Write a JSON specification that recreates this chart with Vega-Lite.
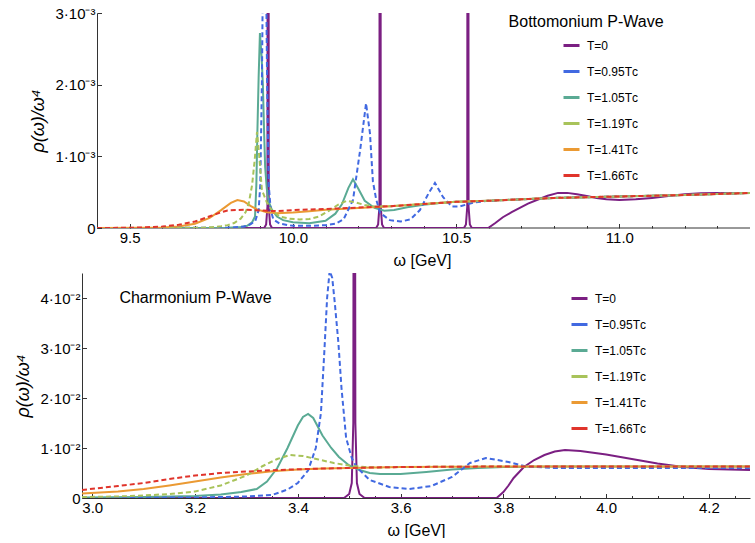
{
"$schema": "https://vega.github.io/schema/vega-lite/v6.json",
"background": "white",
"padding": {"left": 14, "top": 6, "right": 5, "bottom": 0},
"spacing": 5,
"config": {
  "view": {"stroke": null},
  "font": "Liberation Sans",
  "axis": {"grid": false, "domainColor": "#333333", "tickColor": "#333333", "labelColor": "black", "titleColor": "black", "labelFontSize": 15, "titleFontSize": 18, "titleFontWeight": "normal", "labelFont": "Liberation Sans", "titleFont": "Liberation Sans", "tickSize": -4.5, "labelPadding": 6.5},
  "legend": {"orient": "none", "symbolType": "stroke", "symbolStrokeWidth": 3, "symbolSize": 256, "labelFontSize": 12, "labelFont": "Liberation Sans", "labelColor": "black", "rowPadding": 10, "labelOffset": 6, "padding": 0}
},
"resolve": {"scale": {"color": "independent"}, "legend": {"color": "independent"}},
"datasets": {
"bot": [
{"s":"T=0","w":9.4,"v":0},{"s":"T=0","w":9.912,"v":0},{"s":"T=0","w":9.918,"v":0.05e-3},{"s":"T=0","w":9.922,"v":0.3e-3},{"s":"T=0","w":9.924,"v":20e-3},{"s":"T=0","w":9.926,"v":0.3e-3},{"s":"T=0","w":9.93,"v":0.05e-3},{"s":"T=0","w":9.936,"v":0},
{"s":"T=0","w":10.255,"v":0},{"s":"T=0","w":10.261,"v":0.05e-3},{"s":"T=0","w":10.265,"v":0.3e-3},{"s":"T=0","w":10.267,"v":20e-3},{"s":"T=0","w":10.269,"v":0.3e-3},{"s":"T=0","w":10.273,"v":0.05e-3},{"s":"T=0","w":10.279,"v":0},
{"s":"T=0","w":10.524,"v":0},{"s":"T=0","w":10.53,"v":0.05e-3},{"s":"T=0","w":10.534,"v":0.3e-3},{"s":"T=0","w":10.536,"v":20e-3},{"s":"T=0","w":10.538,"v":0.3e-3},{"s":"T=0","w":10.542,"v":0.05e-3},{"s":"T=0","w":10.548,"v":0},
{"s":"T=0","w":10.598,"v":0},{"s":"T=0","w":10.62,"v":0.07e-3},{"s":"T=0","w":10.643,"v":0.15e-3},{"s":"T=0","w":10.67,"v":0.22e-3},{"s":"T=0","w":10.695,"v":0.28e-3},{"s":"T=0","w":10.72,"v":0.34e-3},{"s":"T=0","w":10.747,"v":0.39e-3},{"s":"T=0","w":10.78,"v":0.45e-3},{"s":"T=0","w":10.812,"v":0.49e-3},{"s":"T=0","w":10.84,"v":0.49e-3},{"s":"T=0","w":10.87,"v":0.47e-3},{"s":"T=0","w":10.9,"v":0.445e-3},{"s":"T=0","w":10.93,"v":0.42e-3},{"s":"T=0","w":10.96,"v":0.4e-3},{"s":"T=0","w":11.0,"v":0.39e-3},{"s":"T=0","w":11.05,"v":0.4e-3},{"s":"T=0","w":11.1,"v":0.42e-3},{"s":"T=0","w":11.15,"v":0.445e-3},{"s":"T=0","w":11.2,"v":0.47e-3},{"s":"T=0","w":11.25,"v":0.485e-3},{"s":"T=0","w":11.3,"v":0.49e-3},{"s":"T=0","w":11.4,"v":0.49e-3},

{"s":"T=0.95Tᴄ","w":9.4,"v":0},{"s":"T=0.95Tᴄ","w":9.8,"v":0.003e-3},{"s":"T=0.95Tᴄ","w":9.85,"v":0.02e-3},{"s":"T=0.95Tᴄ","w":9.87,"v":0.05e-3},{"s":"T=0.95Tᴄ","w":9.885,"v":0.1e-3},{"s":"T=0.95Tᴄ","w":9.895,"v":0.25e-3},{"s":"T=0.95Tᴄ","w":9.9,"v":0.6e-3},{"s":"T=0.95Tᴄ","w":9.905,"v":2.0e-3},{"s":"T=0.95Tᴄ","w":9.909,"v":4.0e-3},{"s":"T=0.95Tᴄ","w":9.913,"v":5.0e-3},{"s":"T=0.95Tᴄ","w":9.917,"v":4.0e-3},{"s":"T=0.95Tᴄ","w":9.921,"v":2.0e-3},{"s":"T=0.95Tᴄ","w":9.926,"v":0.6e-3},{"s":"T=0.95Tᴄ","w":9.932,"v":0.25e-3},{"s":"T=0.95Tᴄ","w":9.94,"v":0.12e-3},{"s":"T=0.95Tᴄ","w":9.96,"v":0.06e-3},{"s":"T=0.95Tᴄ","w":10.0,"v":0.03e-3},{"s":"T=0.95Tᴄ","w":10.05,"v":0.03e-3},{"s":"T=0.95Tᴄ","w":10.1,"v":0.04e-3},{"s":"T=0.95Tᴄ","w":10.13,"v":0.06e-3},{"s":"T=0.95Tᴄ","w":10.155,"v":0.12e-3},{"s":"T=0.95Tᴄ","w":10.184,"v":0.39e-3},{"s":"T=0.95Tᴄ","w":10.206,"v":1.09e-3},{"s":"T=0.95Tᴄ","w":10.224,"v":1.74e-3},{"s":"T=0.95Tᴄ","w":10.236,"v":1.32e-3},{"s":"T=0.95Tᴄ","w":10.245,"v":0.65e-3},{"s":"T=0.95Tᴄ","w":10.255,"v":0.4e-3},{"s":"T=0.95Tᴄ","w":10.267,"v":0.21e-3},{"s":"T=0.95Tᴄ","w":10.297,"v":0.11e-3},{"s":"T=0.95Tᴄ","w":10.33,"v":0.09e-3},{"s":"T=0.95Tᴄ","w":10.36,"v":0.12e-3},{"s":"T=0.95Tᴄ","w":10.389,"v":0.25e-3},{"s":"T=0.95Tᴄ","w":10.415,"v":0.48e-3},{"s":"T=0.95Tᴄ","w":10.435,"v":0.63e-3},{"s":"T=0.95Tᴄ","w":10.46,"v":0.43e-3},{"s":"T=0.95Tᴄ","w":10.487,"v":0.3e-3},{"s":"T=0.95Tᴄ","w":10.51,"v":0.3e-3},{"s":"T=0.95Tᴄ","w":10.533,"v":0.33e-3},{"s":"T=0.95Tᴄ","w":10.56,"v":0.36e-3},{"s":"T=0.95Tᴄ","w":10.6,"v":0.38e-3},{"s":"T=0.95Tᴄ","w":10.7,"v":0.4e-3},{"s":"T=0.95Tᴄ","w":10.8,"v":0.42e-3},{"s":"T=0.95Tᴄ","w":10.9,"v":0.43e-3},{"s":"T=0.95Tᴄ","w":11.0,"v":0.44e-3},{"s":"T=0.95Tᴄ","w":11.1,"v":0.45e-3},{"s":"T=0.95Tᴄ","w":11.2,"v":0.46e-3},{"s":"T=0.95Tᴄ","w":11.3,"v":0.475e-3},{"s":"T=0.95Tᴄ","w":11.4,"v":0.49e-3},

{"s":"T=1.05Tᴄ","w":9.4,"v":0},{"s":"T=1.05Tᴄ","w":9.8,"v":0.005e-3},{"s":"T=1.05Tᴄ","w":9.84,"v":0.015e-3},{"s":"T=1.05Tᴄ","w":9.86,"v":0.03e-3},{"s":"T=1.05Tᴄ","w":9.875,"v":0.08e-3},{"s":"T=1.05Tᴄ","w":9.884,"v":0.16e-3},{"s":"T=1.05Tᴄ","w":9.888,"v":0.6e-3},{"s":"T=1.05Tᴄ","w":9.891,"v":1.3e-3},{"s":"T=1.05Tᴄ","w":9.895,"v":2.1e-3},{"s":"T=1.05Tᴄ","w":9.899,"v":2.72e-3},{"s":"T=1.05Tᴄ","w":9.904,"v":2.4e-3},{"s":"T=1.05Tᴄ","w":9.908,"v":2.0e-3},{"s":"T=1.05Tᴄ","w":9.912,"v":1.3e-3},{"s":"T=1.05Tᴄ","w":9.915,"v":0.85e-3},{"s":"T=1.05Tᴄ","w":9.92,"v":0.55e-3},{"s":"T=1.05Tᴄ","w":9.925,"v":0.38e-3},{"s":"T=1.05Tᴄ","w":9.935,"v":0.26e-3},{"s":"T=1.05Tᴄ","w":9.951,"v":0.16e-3},{"s":"T=1.05Tᴄ","w":9.97,"v":0.11e-3},{"s":"T=1.05Tᴄ","w":10.0,"v":0.08e-3},{"s":"T=1.05Tᴄ","w":10.05,"v":0.065e-3},{"s":"T=1.05Tᴄ","w":10.1,"v":0.1e-3},{"s":"T=1.05Tᴄ","w":10.13,"v":0.2e-3},{"s":"T=1.05Tᴄ","w":10.15,"v":0.33e-3},{"s":"T=1.05Tᴄ","w":10.17,"v":0.56e-3},{"s":"T=1.05Tᴄ","w":10.184,"v":0.68e-3},{"s":"T=1.05Tᴄ","w":10.2,"v":0.55e-3},{"s":"T=1.05Tᴄ","w":10.22,"v":0.38e-3},{"s":"T=1.05Tᴄ","w":10.25,"v":0.28e-3},{"s":"T=1.05Tᴄ","w":10.28,"v":0.24e-3},{"s":"T=1.05Tᴄ","w":10.31,"v":0.25e-3},{"s":"T=1.05Tᴄ","w":10.35,"v":0.29e-3},{"s":"T=1.05Tᴄ","w":10.4,"v":0.325e-3},{"s":"T=1.05Tᴄ","w":10.45,"v":0.35e-3},{"s":"T=1.05Tᴄ","w":10.5,"v":0.365e-3},{"s":"T=1.05Tᴄ","w":10.6,"v":0.38e-3},{"s":"T=1.05Tᴄ","w":10.7,"v":0.4e-3},{"s":"T=1.05Tᴄ","w":10.8,"v":0.42e-3},{"s":"T=1.05Tᴄ","w":10.9,"v":0.43e-3},{"s":"T=1.05Tᴄ","w":11.0,"v":0.44e-3},{"s":"T=1.05Tᴄ","w":11.1,"v":0.45e-3},{"s":"T=1.05Tᴄ","w":11.2,"v":0.46e-3},{"s":"T=1.05Tᴄ","w":11.3,"v":0.475e-3},{"s":"T=1.05Tᴄ","w":11.4,"v":0.49e-3},

{"s":"T=1.19Tᴄ","w":9.4,"v":0},{"s":"T=1.19Tᴄ","w":9.7,"v":0.002e-3},{"s":"T=1.19Tᴄ","w":9.75,"v":0.01e-3},{"s":"T=1.19Tᴄ","w":9.78,"v":0.025e-3},{"s":"T=1.19Tᴄ","w":9.8,"v":0.04e-3},{"s":"T=1.19Tᴄ","w":9.82,"v":0.07e-3},{"s":"T=1.19Tᴄ","w":9.84,"v":0.13e-3},{"s":"T=1.19Tᴄ","w":9.855,"v":0.22e-3},{"s":"T=1.19Tᴄ","w":9.865,"v":0.35e-3},{"s":"T=1.19Tᴄ","w":9.875,"v":0.6e-3},{"s":"T=1.19Tᴄ","w":9.883,"v":0.95e-3},{"s":"T=1.19Tᴄ","w":9.89,"v":1.34e-3},{"s":"T=1.19Tᴄ","w":9.897,"v":1.0e-3},{"s":"T=1.19Tᴄ","w":9.905,"v":0.53e-3},{"s":"T=1.19Tᴄ","w":9.92,"v":0.36e-3},{"s":"T=1.19Tᴄ","w":9.936,"v":0.24e-3},{"s":"T=1.19Tᴄ","w":9.96,"v":0.16e-3},{"s":"T=1.19Tᴄ","w":9.99,"v":0.13e-3},{"s":"T=1.19Tᴄ","w":10.02,"v":0.12e-3},{"s":"T=1.19Tᴄ","w":10.05,"v":0.125e-3},{"s":"T=1.19Tᴄ","w":10.08,"v":0.16e-3},{"s":"T=1.19Tᴄ","w":10.11,"v":0.24e-3},{"s":"T=1.19Tᴄ","w":10.14,"v":0.33e-3},{"s":"T=1.19Tᴄ","w":10.165,"v":0.38e-3},{"s":"T=1.19Tᴄ","w":10.19,"v":0.36e-3},{"s":"T=1.19Tᴄ","w":10.22,"v":0.32e-3},{"s":"T=1.19Tᴄ","w":10.25,"v":0.3e-3},{"s":"T=1.19Tᴄ","w":10.3,"v":0.305e-3},{"s":"T=1.19Tᴄ","w":10.4,"v":0.335e-3},{"s":"T=1.19Tᴄ","w":10.5,"v":0.365e-3},{"s":"T=1.19Tᴄ","w":10.6,"v":0.38e-3},{"s":"T=1.19Tᴄ","w":10.7,"v":0.4e-3},{"s":"T=1.19Tᴄ","w":10.8,"v":0.42e-3},{"s":"T=1.19Tᴄ","w":10.9,"v":0.43e-3},{"s":"T=1.19Tᴄ","w":11.0,"v":0.44e-3},{"s":"T=1.19Tᴄ","w":11.1,"v":0.45e-3},{"s":"T=1.19Tᴄ","w":11.2,"v":0.46e-3},{"s":"T=1.19Tᴄ","w":11.3,"v":0.475e-3},{"s":"T=1.19Tᴄ","w":11.4,"v":0.49e-3},

{"s":"T=1.41Tᴄ","w":9.4,"v":0},{"s":"T=1.41Tᴄ","w":9.55,"v":0.002e-3},{"s":"T=1.41Tᴄ","w":9.6,"v":0.006e-3},{"s":"T=1.41Tᴄ","w":9.65,"v":0.02e-3},{"s":"T=1.41Tᴄ","w":9.7,"v":0.06e-3},{"s":"T=1.41Tᴄ","w":9.745,"v":0.14e-3},{"s":"T=1.41Tᴄ","w":9.78,"v":0.25e-3},{"s":"T=1.41Tᴄ","w":9.81,"v":0.35e-3},{"s":"T=1.41Tᴄ","w":9.83,"v":0.39e-3},{"s":"T=1.41Tᴄ","w":9.85,"v":0.37e-3},{"s":"T=1.41Tᴄ","w":9.87,"v":0.31e-3},{"s":"T=1.41Tᴄ","w":9.89,"v":0.26e-3},{"s":"T=1.41Tᴄ","w":9.92,"v":0.22e-3},{"s":"T=1.41Tᴄ","w":9.95,"v":0.205e-3},{"s":"T=1.41Tᴄ","w":10.0,"v":0.215e-3},{"s":"T=1.41Tᴄ","w":10.05,"v":0.235e-3},{"s":"T=1.41Tᴄ","w":10.1,"v":0.255e-3},{"s":"T=1.41Tᴄ","w":10.2,"v":0.28e-3},{"s":"T=1.41Tᴄ","w":10.3,"v":0.305e-3},{"s":"T=1.41Tᴄ","w":10.4,"v":0.335e-3},{"s":"T=1.41Tᴄ","w":10.5,"v":0.365e-3},{"s":"T=1.41Tᴄ","w":10.6,"v":0.38e-3},{"s":"T=1.41Tᴄ","w":10.7,"v":0.4e-3},{"s":"T=1.41Tᴄ","w":10.8,"v":0.42e-3},{"s":"T=1.41Tᴄ","w":10.9,"v":0.43e-3},{"s":"T=1.41Tᴄ","w":11.0,"v":0.44e-3},{"s":"T=1.41Tᴄ","w":11.1,"v":0.45e-3},{"s":"T=1.41Tᴄ","w":11.2,"v":0.46e-3},{"s":"T=1.41Tᴄ","w":11.3,"v":0.475e-3},{"s":"T=1.41Tᴄ","w":11.4,"v":0.49e-3},

{"s":"T=1.66Tᴄ","w":9.4,"v":0},{"s":"T=1.66Tᴄ","w":9.5,"v":0.003e-3},{"s":"T=1.66Tᴄ","w":9.55,"v":0.01e-3},{"s":"T=1.66Tᴄ","w":9.6,"v":0.02e-3},{"s":"T=1.66Tᴄ","w":9.65,"v":0.045e-3},{"s":"T=1.66Tᴄ","w":9.7,"v":0.09e-3},{"s":"T=1.66Tᴄ","w":9.75,"v":0.17e-3},{"s":"T=1.66Tᴄ","w":9.78,"v":0.22e-3},{"s":"T=1.66Tᴄ","w":9.8,"v":0.245e-3},{"s":"T=1.66Tᴄ","w":9.85,"v":0.255e-3},{"s":"T=1.66Tᴄ","w":9.9,"v":0.245e-3},{"s":"T=1.66Tᴄ","w":9.95,"v":0.235e-3},{"s":"T=1.66Tᴄ","w":10.0,"v":0.25e-3},{"s":"T=1.66Tᴄ","w":10.1,"v":0.265e-3},{"s":"T=1.66Tᴄ","w":10.2,"v":0.285e-3},{"s":"T=1.66Tᴄ","w":10.3,"v":0.305e-3},{"s":"T=1.66Tᴄ","w":10.4,"v":0.335e-3},{"s":"T=1.66Tᴄ","w":10.5,"v":0.365e-3},{"s":"T=1.66Tᴄ","w":10.6,"v":0.38e-3},{"s":"T=1.66Tᴄ","w":10.7,"v":0.4e-3},{"s":"T=1.66Tᴄ","w":10.8,"v":0.42e-3},{"s":"T=1.66Tᴄ","w":10.9,"v":0.43e-3},{"s":"T=1.66Tᴄ","w":11.0,"v":0.44e-3},{"s":"T=1.66Tᴄ","w":11.1,"v":0.45e-3},{"s":"T=1.66Tᴄ","w":11.2,"v":0.46e-3},{"s":"T=1.66Tᴄ","w":11.3,"v":0.475e-3},{"s":"T=1.66Tᴄ","w":11.4,"v":0.49e-3}
],
"char": [
{"s":"T=0","w":2.98,"v":0},{"s":"T=0","w":3.49,"v":0},{"s":"T=0","w":3.5,"v":0.08e-2},{"s":"T=0","w":3.505,"v":0.3e-2},{"s":"T=0","w":3.508,"v":1.5e-2},{"s":"T=0","w":3.51,"v":20e-2},{"s":"T=0","w":3.512,"v":1.5e-2},{"s":"T=0","w":3.515,"v":0.3e-2},{"s":"T=0","w":3.52,"v":0.08e-2},{"s":"T=0","w":3.53,"v":0},{"s":"T=0","w":3.787,"v":0},{"s":"T=0","w":3.8,"v":0.12e-2},{"s":"T=0","w":3.81,"v":0.25e-2},{"s":"T=0","w":3.82,"v":0.4e-2},{"s":"T=0","w":3.84,"v":0.62e-2},{"s":"T=0","w":3.86,"v":0.76e-2},{"s":"T=0","w":3.88,"v":0.86e-2},{"s":"T=0","w":3.9,"v":0.93e-2},{"s":"T=0","w":3.92,"v":0.96e-2},{"s":"T=0","w":3.95,"v":0.94e-2},{"s":"T=0","w":4.0,"v":0.87e-2},{"s":"T=0","w":4.05,"v":0.78e-2},{"s":"T=0","w":4.1,"v":0.69e-2},{"s":"T=0","w":4.15,"v":0.62e-2},{"s":"T=0","w":4.2,"v":0.58e-2},{"s":"T=0","w":4.28,"v":0.56e-2},

{"s":"T=0.95Tᴄ","w":2.98,"v":0},{"s":"T=0.95Tᴄ","w":3.2,"v":0.01e-2},{"s":"T=0.95Tᴄ","w":3.3,"v":0.03e-2},{"s":"T=0.95Tᴄ","w":3.35,"v":0.06e-2},{"s":"T=0.95Tᴄ","w":3.38,"v":0.17e-2},{"s":"T=0.95Tᴄ","w":3.4,"v":0.3e-2},{"s":"T=0.95Tᴄ","w":3.42,"v":0.55e-2},{"s":"T=0.95Tᴄ","w":3.435,"v":1.0e-2},{"s":"T=0.95Tᴄ","w":3.445,"v":1.7e-2},{"s":"T=0.95Tᴄ","w":3.452,"v":3.0e-2},{"s":"T=0.95Tᴄ","w":3.457,"v":4.0e-2},{"s":"T=0.95Tᴄ","w":3.462,"v":4.55e-2},{"s":"T=0.95Tᴄ","w":3.467,"v":4.4e-2},{"s":"T=0.95Tᴄ","w":3.472,"v":3.9e-2},{"s":"T=0.95Tᴄ","w":3.479,"v":3.1e-2},{"s":"T=0.95Tᴄ","w":3.485,"v":2.2e-2},{"s":"T=0.95Tᴄ","w":3.494,"v":1.2e-2},{"s":"T=0.95Tᴄ","w":3.505,"v":0.8e-2},{"s":"T=0.95Tᴄ","w":3.514,"v":0.62e-2},{"s":"T=0.95Tᴄ","w":3.54,"v":0.36e-2},{"s":"T=0.95Tᴄ","w":3.578,"v":0.22e-2},{"s":"T=0.95Tᴄ","w":3.617,"v":0.18e-2},{"s":"T=0.95Tᴄ","w":3.66,"v":0.24e-2},{"s":"T=0.95Tᴄ","w":3.7,"v":0.42e-2},{"s":"T=0.95Tᴄ","w":3.735,"v":0.7e-2},{"s":"T=0.95Tᴄ","w":3.766,"v":0.8e-2},{"s":"T=0.95Tᴄ","w":3.81,"v":0.72e-2},{"s":"T=0.95Tᴄ","w":3.845,"v":0.63e-2},{"s":"T=0.95Tᴄ","w":3.9,"v":0.6e-2},{"s":"T=0.95Tᴄ","w":4.0,"v":0.6e-2},{"s":"T=0.95Tᴄ","w":4.1,"v":0.6e-2},{"s":"T=0.95Tᴄ","w":4.2,"v":0.6e-2},{"s":"T=0.95Tᴄ","w":4.28,"v":0.6e-2},

{"s":"T=1.05Tᴄ","w":2.98,"v":0.01e-2},{"s":"T=1.05Tᴄ","w":3.1,"v":0.02e-2},{"s":"T=1.05Tᴄ","w":3.2,"v":0.04e-2},{"s":"T=1.05Tᴄ","w":3.25,"v":0.07e-2},{"s":"T=1.05Tᴄ","w":3.29,"v":0.12e-2},{"s":"T=1.05Tᴄ","w":3.32,"v":0.18e-2},{"s":"T=1.05Tᴄ","w":3.34,"v":0.33e-2},{"s":"T=1.05Tᴄ","w":3.36,"v":0.6e-2},{"s":"T=1.05Tᴄ","w":3.38,"v":1.0e-2},{"s":"T=1.05Tᴄ","w":3.4,"v":1.45e-2},{"s":"T=1.05Tᴄ","w":3.41,"v":1.62e-2},{"s":"T=1.05Tᴄ","w":3.42,"v":1.68e-2},{"s":"T=1.05Tᴄ","w":3.43,"v":1.6e-2},{"s":"T=1.05Tᴄ","w":3.448,"v":1.25e-2},{"s":"T=1.05Tᴄ","w":3.465,"v":1.0e-2},{"s":"T=1.05Tᴄ","w":3.48,"v":0.82e-2},{"s":"T=1.05Tᴄ","w":3.5,"v":0.65e-2},{"s":"T=1.05Tᴄ","w":3.52,"v":0.56e-2},{"s":"T=1.05Tᴄ","w":3.54,"v":0.5e-2},{"s":"T=1.05Tᴄ","w":3.56,"v":0.48e-2},{"s":"T=1.05Tᴄ","w":3.6,"v":0.48e-2},{"s":"T=1.05Tᴄ","w":3.65,"v":0.52e-2},{"s":"T=1.05Tᴄ","w":3.7,"v":0.57e-2},{"s":"T=1.05Tᴄ","w":3.75,"v":0.6e-2},{"s":"T=1.05Tᴄ","w":3.8,"v":0.62e-2},{"s":"T=1.05Tᴄ","w":3.9,"v":0.63e-2},{"s":"T=1.05Tᴄ","w":4.0,"v":0.63e-2},{"s":"T=1.05Tᴄ","w":4.1,"v":0.63e-2},{"s":"T=1.05Tᴄ","w":4.2,"v":0.63e-2},{"s":"T=1.05Tᴄ","w":4.28,"v":0.63e-2},

{"s":"T=1.19Tᴄ","w":2.98,"v":0.02e-2},{"s":"T=1.19Tᴄ","w":3.05,"v":0.03e-2},{"s":"T=1.19Tᴄ","w":3.1,"v":0.05e-2},{"s":"T=1.19Tᴄ","w":3.15,"v":0.08e-2},{"s":"T=1.19Tᴄ","w":3.2,"v":0.13e-2},{"s":"T=1.19Tᴄ","w":3.25,"v":0.25e-2},{"s":"T=1.19Tᴄ","w":3.3,"v":0.45e-2},{"s":"T=1.19Tᴄ","w":3.33,"v":0.63e-2},{"s":"T=1.19Tᴄ","w":3.36,"v":0.78e-2},{"s":"T=1.19Tᴄ","w":3.385,"v":0.86e-2},{"s":"T=1.19Tᴄ","w":3.41,"v":0.84e-2},{"s":"T=1.19Tᴄ","w":3.44,"v":0.77e-2},{"s":"T=1.19Tᴄ","w":3.47,"v":0.7e-2},{"s":"T=1.19Tᴄ","w":3.5,"v":0.65e-2},{"s":"T=1.19Tᴄ","w":3.53,"v":0.62e-2},{"s":"T=1.19Tᴄ","w":3.56,"v":0.61e-2},{"s":"T=1.19Tᴄ","w":3.6,"v":0.62e-2},{"s":"T=1.19Tᴄ","w":3.7,"v":0.625e-2},{"s":"T=1.19Tᴄ","w":3.8,"v":0.63e-2},{"s":"T=1.19Tᴄ","w":3.9,"v":0.63e-2},{"s":"T=1.19Tᴄ","w":4.0,"v":0.63e-2},{"s":"T=1.19Tᴄ","w":4.1,"v":0.63e-2},{"s":"T=1.19Tᴄ","w":4.2,"v":0.63e-2},{"s":"T=1.19Tᴄ","w":4.28,"v":0.63e-2},

{"s":"T=1.41Tᴄ","w":2.98,"v":0.09e-2},{"s":"T=1.41Tᴄ","w":3.05,"v":0.13e-2},{"s":"T=1.41Tᴄ","w":3.1,"v":0.18e-2},{"s":"T=1.41Tᴄ","w":3.15,"v":0.25e-2},{"s":"T=1.41Tᴄ","w":3.2,"v":0.33e-2},{"s":"T=1.41Tᴄ","w":3.25,"v":0.41e-2},{"s":"T=1.41Tᴄ","w":3.3,"v":0.48e-2},{"s":"T=1.41Tᴄ","w":3.35,"v":0.535e-2},{"s":"T=1.41Tᴄ","w":3.4,"v":0.57e-2},{"s":"T=1.41Tᴄ","w":3.45,"v":0.59e-2},{"s":"T=1.41Tᴄ","w":3.5,"v":0.6e-2},{"s":"T=1.41Tᴄ","w":3.55,"v":0.61e-2},{"s":"T=1.41Tᴄ","w":3.6,"v":0.62e-2},{"s":"T=1.41Tᴄ","w":3.7,"v":0.625e-2},{"s":"T=1.41Tᴄ","w":3.8,"v":0.63e-2},{"s":"T=1.41Tᴄ","w":3.9,"v":0.63e-2},{"s":"T=1.41Tᴄ","w":4.0,"v":0.63e-2},{"s":"T=1.41Tᴄ","w":4.1,"v":0.63e-2},{"s":"T=1.41Tᴄ","w":4.2,"v":0.63e-2},{"s":"T=1.41Tᴄ","w":4.28,"v":0.63e-2},

{"s":"T=1.66Tᴄ","w":2.98,"v":0.16e-2},{"s":"T=1.66Tᴄ","w":3.05,"v":0.24e-2},{"s":"T=1.66Tᴄ","w":3.1,"v":0.3e-2},{"s":"T=1.66Tᴄ","w":3.15,"v":0.38e-2},{"s":"T=1.66Tᴄ","w":3.2,"v":0.45e-2},{"s":"T=1.66Tᴄ","w":3.25,"v":0.5e-2},{"s":"T=1.66Tᴄ","w":3.3,"v":0.53e-2},{"s":"T=1.66Tᴄ","w":3.35,"v":0.555e-2},{"s":"T=1.66Tᴄ","w":3.4,"v":0.575e-2},{"s":"T=1.66Tᴄ","w":3.45,"v":0.59e-2},{"s":"T=1.66Tᴄ","w":3.5,"v":0.6e-2},{"s":"T=1.66Tᴄ","w":3.55,"v":0.61e-2},{"s":"T=1.66Tᴄ","w":3.6,"v":0.62e-2},{"s":"T=1.66Tᴄ","w":3.7,"v":0.625e-2},{"s":"T=1.66Tᴄ","w":3.8,"v":0.63e-2},{"s":"T=1.66Tᴄ","w":3.9,"v":0.63e-2},{"s":"T=1.66Tᴄ","w":4.0,"v":0.63e-2},{"s":"T=1.66Tᴄ","w":4.1,"v":0.63e-2},{"s":"T=1.66Tᴄ","w":4.2,"v":0.63e-2},{"s":"T=1.66Tᴄ","w":4.28,"v":0.63e-2}
]
},
"vconcat": [
{
  "width": 668, "height": 215,
  "resolve": {"axis": {"x": "independent"}},
  "layer": [
    {
      "data": {"values": [{"a": 9.4, "b": 11.4, "v": 0}]},
      "mark": {"type": "rule", "color": "#333333", "strokeWidth": 1},
      "encoding": {"x": {"field": "a", "type": "quantitative", "axis": {"orient": "bottom", "values": [9.6, 9.7, 9.8, 9.9, 10.1, 10.2, 10.3, 10.4, 10.6, 10.7, 10.8, 10.9, 11.1, 11.2, 11.3], "labels": false, "domain": false, "title": null, "tickSize": -2.5}}, "x2": {"field": "b"}, "y": {"field": "v", "type": "quantitative"}}
    },
    {
      "data": {"name": "bot"},
      "transform": [{"filter": {"field": "s", "oneOf": ["T=0", "T=1.05Tᴄ", "T=1.41Tᴄ"]}}],
      "mark": {"type": "line", "clip": true, "strokeWidth": 2},
      "encoding": {
        "x": {"field": "w", "type": "quantitative", "scale": {"domain": [9.354, 11.4], "nice": false, "zero": false}, "axis": {"orient": "bottom", "values": [9.5, 10.0, 10.5, 11.0], "format": ".1f", "title": "ω [GeV]", "titleFontSize": 16, "titleY": 24, "titleX": 340, "domain": false}},
        "y": {"field": "v", "type": "quantitative", "scale": {"domain": [0, 0.003], "nice": false}, "axis": {"values": [0, 0.001, 0.002, 0.003], "labelExpr": "datum.value == 0 ? '0' : round(datum.value*1000) + '·10⁻³'", "title": "ρ(ω)/ω⁴", "titleX": -50, "titleFontStyle": "italic", "offset": -15}},
        "color": {"field": "s", "type": "nominal", "scale": {"domain": ["T=0", "T=0.95Tᴄ", "T=1.05Tᴄ", "T=1.19Tᴄ", "T=1.41Tᴄ", "T=1.66Tᴄ"], "range": ["#7b1f82", "#4169e1", "#5aaa94", "#a8c35a", "#eb9a33", "#e0342b"]}, "legend": {"title": null, "legendX": 480, "legendY": 23}}
      }
    },
    {
      "data": {"name": "bot"},
      "transform": [{"filter": {"field": "s", "oneOf": ["T=0.95Tᴄ", "T=1.19Tᴄ", "T=1.66Tᴄ"]}}],
      "mark": {"type": "line", "clip": true, "strokeWidth": 2, "strokeDash": [5, 3]},
      "encoding": {
        "x": {"field": "w", "type": "quantitative", "axis": null},
        "y": {"field": "v", "type": "quantitative", "axis": {"values": [0, 0.001, 0.002, 0.003], "labelExpr": "datum.value == 0 ? '0' : round(datum.value*1000) + '·10⁻³'", "title": "ρ(ω)/ω⁴", "titleX": -50, "titleFontStyle": "italic", "offset": -15}},
        "color": {"field": "s", "type": "nominal", "legend": {"title": null, "legendX": 480, "legendY": 23}}
      }
    },
    {
      "data": {"values": [{"w": 10.898, "v": 0.00287, "t": "Bottomonium P-Wave"}]},
      "mark": {"type": "text", "fontSize": 16, "font": "Liberation Sans", "color": "black"},
      "encoding": {"x": {"field": "w", "type": "quantitative", "axis": null}, "y": {"field": "v", "type": "quantitative"}, "text": {"field": "t"}}
    }
  ]
},
{
  "width": 668, "height": 225,
  "resolve": {"axis": {"x": "independent"}},
  "layer": [
    {
      "data": {"name": "char"},
      "transform": [{"filter": {"field": "s", "oneOf": ["T=0", "T=1.05Tᴄ", "T=1.41Tᴄ"]}}],
      "mark": {"type": "line", "clip": true, "strokeWidth": 2},
      "encoding": {
        "x": {"field": "w", "type": "quantitative", "scale": {"domain": [2.98, 4.28], "nice": false, "zero": false}, "axis": {"orient": "bottom", "values": [3.0, 3.2, 3.4, 3.6, 3.8, 4.0, 4.2], "format": ".1f", "title": "ω [GeV]", "titleFontSize": 16, "titleY": 24}},
        "y": {"field": "v", "type": "quantitative", "scale": {"domain": [0, 0.045], "nice": false}, "axis": {"values": [0, 0.01, 0.02, 0.03, 0.04], "labelExpr": "datum.value == 0 ? '0' : round(datum.value*100) + '·10⁻²'", "title": "ρ(ω)/ω⁴", "titleX": -50, "titleFontStyle": "italic"}},
        "color": {"field": "s", "type": "nominal", "scale": {"domain": ["T=0", "T=0.95Tᴄ", "T=1.05Tᴄ", "T=1.19Tᴄ", "T=1.41Tᴄ", "T=1.66Tᴄ"], "range": ["#7b1f82", "#4169e1", "#5aaa94", "#a8c35a", "#eb9a33", "#e0342b"]}, "legend": {"title": null, "legendX": 488, "legendY": 16}}
      }
    },
    {
      "data": {"name": "char"},
      "transform": [{"filter": {"field": "s", "oneOf": ["T=0.95Tᴄ", "T=1.19Tᴄ", "T=1.66Tᴄ"]}}],
      "mark": {"type": "line", "clip": true, "strokeWidth": 2, "strokeDash": [5, 3]},
      "encoding": {
        "x": {"field": "w", "type": "quantitative", "axis": null},
        "y": {"field": "v", "type": "quantitative", "axis": {"values": [0, 0.01, 0.02, 0.03, 0.04], "labelExpr": "datum.value == 0 ? '0' : round(datum.value*100) + '·10⁻²'", "title": "ρ(ω)/ω⁴", "titleX": -50, "titleFontStyle": "italic"}},
        "color": {"field": "s", "type": "nominal", "legend": {"title": null, "legendX": 488, "legendY": 16}}
      }
    },
    {
      "data": {"values": [{"w": 3.201, "v": 0.04, "t": "Charmonium P-Wave"}]},
      "mark": {"type": "text", "fontSize": 16, "font": "Liberation Sans", "color": "black"},
      "encoding": {"x": {"field": "w", "type": "quantitative", "axis": {"orient": "bottom", "values": [3.05, 3.1, 3.15, 3.25, 3.3, 3.35, 3.45, 3.5, 3.55, 3.65, 3.7, 3.75, 3.85, 3.9, 3.95, 4.05, 4.1, 4.15, 4.25], "labels": false, "domain": false, "title": null, "tickSize": -2.5}}, "y": {"field": "v", "type": "quantitative"}, "text": {"field": "t"}}
    }
  ]
}
]
}
